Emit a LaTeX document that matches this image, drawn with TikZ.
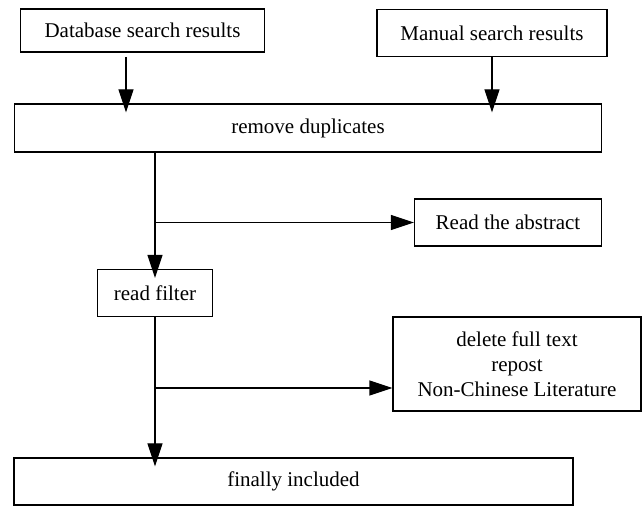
\documentclass[tikz,border=0pt]{standalone}
\usepackage{fontspec}
\setmainfont{Liberation Serif}
\usetikzlibrary{arrows.meta}

\begin{document}
\begin{tikzpicture}[x=0.5pt,y=-0.5pt,line width=0.6pt,
                    box/.style={draw,inner sep=0pt,align=center,
                                font=\fontsize{10.5}{12.5}\selectfont},
                    goto/.style=->,into/.style={shorten >=-4.5pt},
                    >={Triangle[length=11.5pt,width=7.5pt]}]
\useasboundingbox (0,0) rectangle (643,506);
\node[box,minimum width=122pt,minimum height=21.5pt] (db) at (142.5,30.5) {Database search results};
\node[box,minimum width=115pt,minimum height=23.5pt] (ms) at (492,33) {Manual search results};
\node[box,minimum width=293.5pt,minimum height=24pt] (rd) at (308,128) {remove duplicates};
\node[box,minimum width=93.5pt,minimum height=23.5pt] (ab) at (508,222.5) {Read the abstract};
\node[box,minimum width=57.5pt,minimum height=23.5pt] (rf) at (155,293) {read filter};
\node[box,minimum width=124pt,minimum height=47pt] (del) at (517,364) {delete full text\\repost\\Non-Chinese Literature};
\node[box,minimum width=279.5pt,minimum height=23.5pt] (fin) at (293.5,481.5) {finally included};
\coordinate (dbout) at (126,57);
\coordinate (delin) at ([yshift=-12pt]del.west);
\draw[goto,into] (dbout) -- (dbout |- rd.north);
\draw[goto,into] (ms.south) -- (ms.south |- rd.north);
\draw[goto,into] (rd.south -| rf.north) -- (rf.north);
\draw[goto] (rf.north |- ab.west) -- (ab.west);
\draw[goto,into] (rf.south) -- (rf.south |- fin.north);
\draw[goto] (rf.south |- delin) -- (delin);
\end{tikzpicture}
\end{document}
